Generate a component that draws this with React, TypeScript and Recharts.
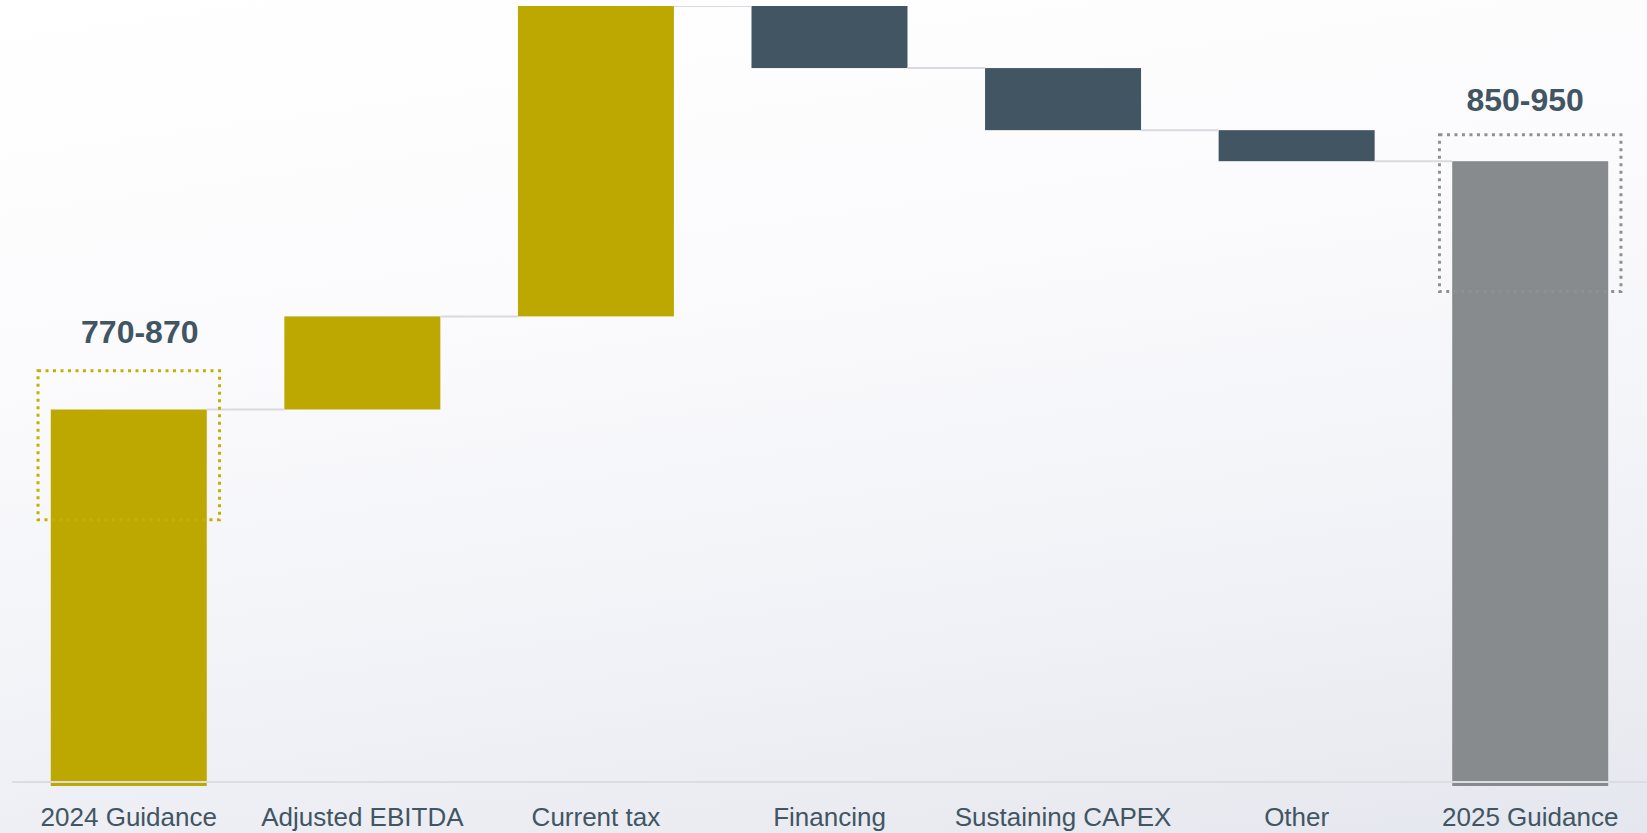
import React from 'react';
import { BarChart, Bar, XAxis, YAxis, ReferenceLine, LabelList } from 'recharts';

const categories = ['2024 Guidance', 'Adjusted EBITDA', 'Current tax', 'Financing', 'Sustaining CAPEX', 'Other', '2025 Guidance'];
const kinds = ['total', 'up', 'up', 'down', 'down', 'down', 'total'];
const values = [820, 30, 100, -20, -20, -10, 900];
const rangeLabels = ['770-870', '', '', '', '', '', '850-950'];
const boxLow = [784.5, null, null, null, null, null, 858];
const boxHigh = [832.5, null, null, null, null, null, 908.5];

const Y_MIN = 698.7;
const Y_MAX = 950;
const BASELINE = 700;

const GOLD = '#bca800';
const SLATE = '#415563';
const GREY = '#878b8d';
const kindColor: Record<string, string> = { up: GOLD, down: SLATE };
const totalColors = [GOLD, GREY];
const boxColors = ['#c4b000', '#8e9194'];
const FONT = '"Liberation Sans", Arial, Helvetica, sans-serif';
const GAP = 0.166;
// label nudges (style only), keyed by label text
const LABEL_NUDGE: Record<string, { dx: number; dy: number }> = {
  '770-870': { dx: 11, dy: -3 },
  '850-950': { dx: -5, dy: 1 },
};

let cum = 0;
let totalIdx = 0;
const data = categories.map((name, i) => {
  const kind = kinds[i];
  let range: [number, number];
  let color: string;
  if (kind === 'total') {
    cum = values[i];
    range = [Y_MIN, values[i]];
    color = totalColors[totalIdx];
  } else {
    const start = cum;
    const end = cum + values[i];
    cum = end;
    range = [Math.min(start, end), Math.max(start, end)];
    color = kindColor[kind];
  }
  const hasBox = boxLow[i] != null;
  const boxColor = hasBox ? boxColors[totalIdx] : 'none';
  if (kind === 'total') totalIdx += 1;
  return {
    name,
    kind,
    range,
    color,
    box: hasBox ? [boxLow[i], boxHigh[i]] : null,
    boxColor,
    label: rangeLabels[i],
  };
});

const WaterfallShape = (props: any) => {
  const { x, y, width, height, index, payload } = props;
  if (width == null || height == null) return null;
  const gap = (width * 2 * GAP) / (1 - 2 * GAP);
  const level = payload.kind === 'up' ? y + height : y;
  return (
    <g>
      <rect x={x} y={y} width={width} height={height} fill={payload.color} />
      {index > 0 && (
        <line x1={x - gap} x2={x} y1={level} y2={level} stroke="#d9dadf" strokeWidth={2} />
      )}
    </g>
  );
};

const BoxShape = (props: any) => {
  const { x, y, width, height, payload } = props;
  if (!payload.box || width == null) return null;
  const pad = 12.75;
  return (
    <rect
      x={x - pad}
      y={y}
      width={width + pad * 2}
      height={height}
      fill="none"
      stroke={payload.boxColor}
      strokeWidth={3}
      strokeDasharray="3 4.5"
    />
  );
};

const RangeLabel = (props: any) => {
  const { x, y, width, value } = props;
  if (!value) return null;
  const nudge = LABEL_NUDGE[String(value)] || { dx: 0, dy: 0 };
  return (
    <text
      x={x + width / 2 + nudge.dx}
      y={y - 25 + nudge.dy}
      textAnchor="middle"
      fill={SLATE}
      fontSize={32}
      fontWeight="bold"
      fontFamily={FONT}
    >
      {value}
    </text>
  );
};

export default function App() {
  return (
    <div
      style={{
        position: 'fixed',
        left: 0,
        top: 0,
        width: 1647,
        height: 833,
        overflow: 'hidden',
        background: 'linear-gradient(172deg, #ffffff 0%, #fbfbfd 35%, #f1f2f7 70%, #e5e7ee 100%)',
      }}
    >
      <BarChart
        width={1647}
        height={833}
        data={data}
        margin={{ top: 6, right: 0, left: 12, bottom: 0 }}
        barCategoryGap="16.6%"
      >
        <XAxis
          dataKey="name"
          axisLine={false}
          tickLine={false}
          tickSize={0}
          tickMargin={22}
          height={47}
          interval={0}
          tick={{ fill: SLATE, fontSize: 26, fontFamily: FONT }}
        />
        <XAxis xAxisId="box" dataKey="name" hide />
        <YAxis hide type="number" domain={[Y_MIN, Y_MAX]} allowDataOverflow />
        <Bar dataKey="range" isAnimationActive={false} shape={WaterfallShape} />
        <Bar xAxisId="box" dataKey="box" isAnimationActive={false} shape={BoxShape}>
          <LabelList dataKey="label" content={RangeLabel} />
        </Bar>
        <ReferenceLine y={BASELINE} stroke="#dcdde2" strokeWidth={2} />
      </BarChart>
    </div>
  );
}
